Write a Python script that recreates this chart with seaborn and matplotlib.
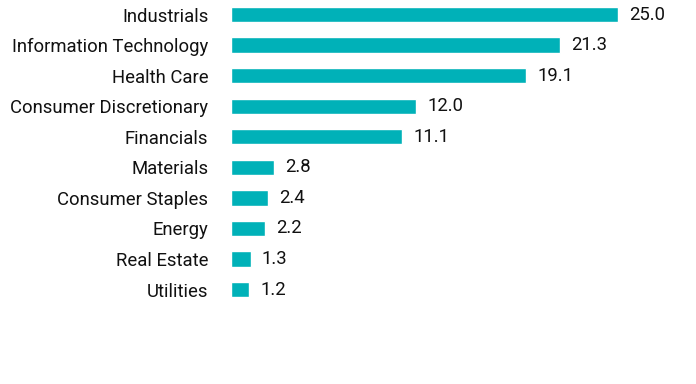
import matplotlib
matplotlib.use("Agg")
import matplotlib.pyplot as plt
import seaborn as sns
import pandas as pd

sectors = ["Industrials", "Information Technology", "Health Care", "Consumer Discretionary",
           "Financials", "Materials", "Consumer Staples", "Energy", "Real Estate", "Utilities"]
weights = [25.0, 21.3, 19.1, 12.0, 11.1, 2.8, 2.4, 2.2, 1.3, 1.2]

df = pd.DataFrame({"Sector": sectors, "Weight": weights})

sns.set_style("white")
plt.rcParams['font.family'] = ['Roboto', 'DejaVu Sans']

fig = plt.figure(figsize=(6.96, 3.84), dpi=100)
ax = fig.add_axes([230.5 / 696, 0, 463 / 696, 1])

sns.barplot(data=df, x="Weight", y="Sector", color="#00B1B8", width=0.5,
            saturation=1, ax=ax, orient="h")

ax.set_xlim(0, 29.9)
ax.set_ylim(12.09, -0.4745)
ax.set_xlabel("")
ax.set_ylabel("")
ax.set_xticks([])
ax.tick_params(axis="y", length=0, pad=16, labelsize=13.3, labelcolor="#111111")
for s in ax.spines.values():
    s.set_visible(False)

ax.bar_label(ax.containers[0], fmt="%.1f", padding=8, fontsize=13.3, color="#111111")

fig.savefig("out.png", dpi=100)
